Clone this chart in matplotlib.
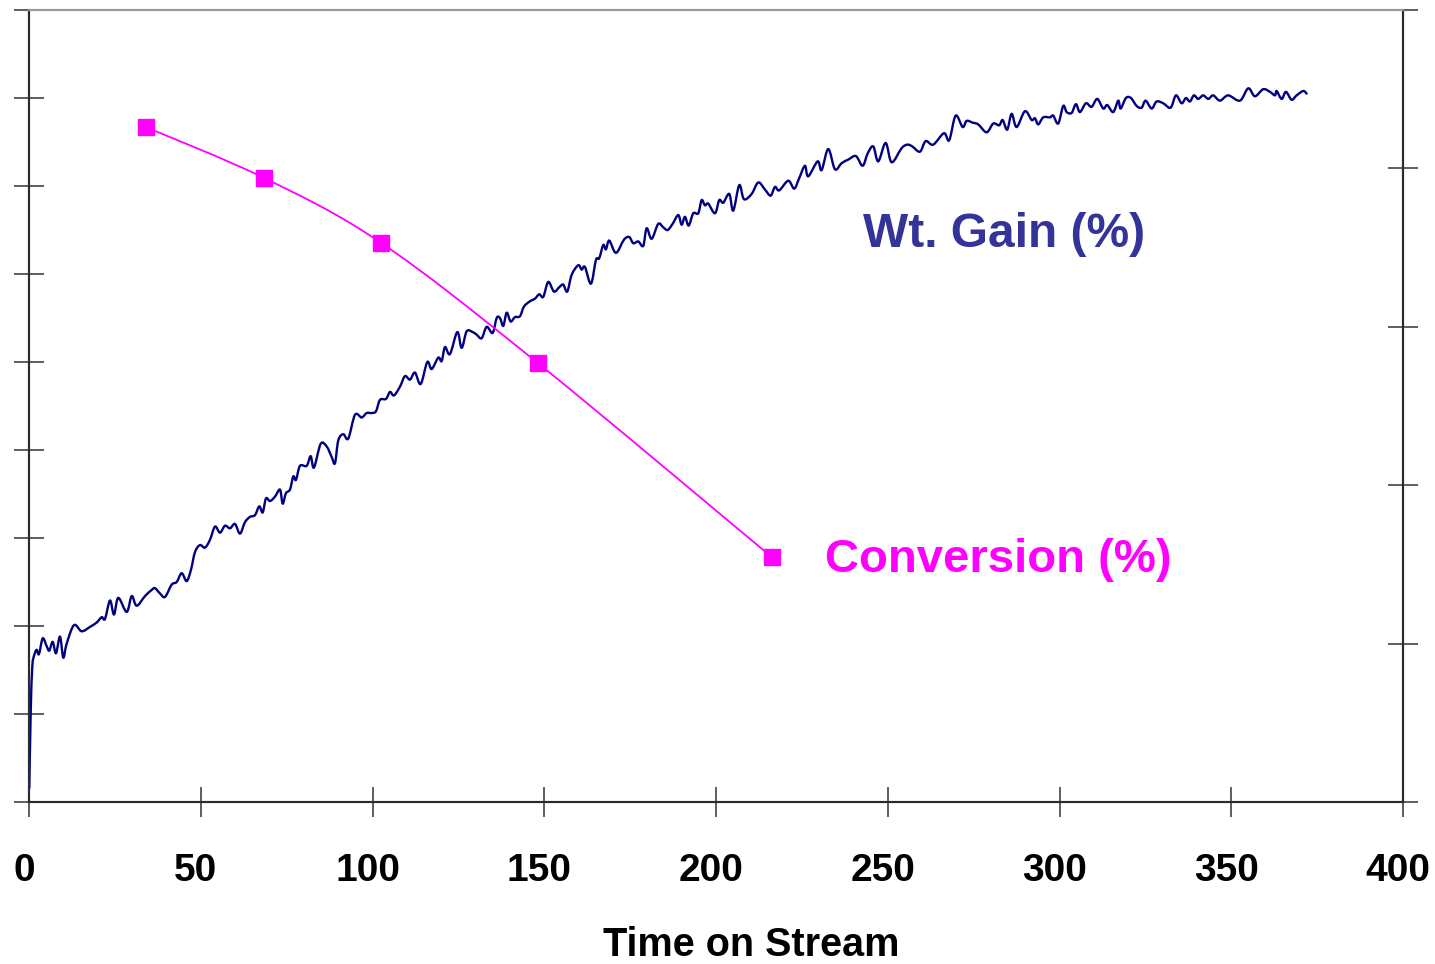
import matplotlib
matplotlib.use("Agg")
import matplotlib.pyplot as plt
from matplotlib.path import Path
from matplotlib.patches import PathPatch
from matplotlib.transforms import ScaledTranslation

plt.rcParams["font.family"] = ["Liberation Sans", "DejaVu Sans"]

# Weight gain (%) recorded against time on stream
time_wt = [
    0.09, 0.49, 0.96, 1.54, 2.24, 2.91, 3.99, 5.15, 5.91, 6.90, 7.86, 9.02, 9.98, 10.97,
    13.10, 15.34, 17.76, 19.71, 21.16, 22.12, 23.58, 24.74, 26.00, 28.44, 29.90, 31.35,
    33.77, 35.72, 36.68, 38.14, 39.59, 41.54, 43.00, 44.45, 45.91, 47.16, 48.32, 49.78,
    51.23, 52.69, 54.15, 55.60, 57.06, 58.51, 59.97, 61.42, 62.88, 64.33, 65.79, 67.04,
    68.03, 68.99, 70.16, 71.61, 73.07, 73.85, 74.81, 75.98, 76.94, 77.72, 78.89, 80.84,
    82.00, 82.96, 84.91, 86.66, 88.12, 89.08, 90.04, 91.49, 92.95, 94.90, 96.85, 98.31,
    99.76, 101.01, 102.18, 103.92, 105.09, 106.25, 108.00, 109.45, 110.91, 112.36, 114.02,
    115.95, 117.23, 119.15, 120.14, 121.10, 122.55, 124.68, 125.96, 127.42, 129.16, 130.33,
    131.78, 133.24, 134.98, 136.15, 137.11, 138.07, 139.06, 140.22, 141.47, 142.93, 144.09,
    145.84, 147.30, 148.55, 149.71, 151.17, 152.83, 154.37, 155.53, 156.70, 157.98, 159.90,
    160.89, 161.85, 163.60, 165.05, 166.01, 167.18, 167.96, 168.93, 170.88, 173.21, 174.75,
    175.91, 177.37, 178.82, 179.81, 181.27, 183.19, 184.65, 185.93, 187.38, 189.01, 190.00,
    190.96, 192.04, 193.38, 194.83, 195.82, 196.78, 197.74, 199.70, 200.95, 202.11, 203.86,
    205.02, 206.77, 208.14, 210.38, 212.30, 214.25, 215.91, 217.16, 218.41, 221.03, 222.78,
    224.23, 225.89, 226.85, 229.59, 230.75, 232.68, 234.63, 236.58, 238.50, 240.74, 242.69,
    244.15, 245.78, 247.23, 249.39, 251.13, 254.04, 255.68, 257.13, 259.37, 261.03, 263.24,
    266.36, 267.90, 269.76, 271.80, 272.97, 274.71, 276.34, 278.79, 280.71, 282.45, 283.45,
    284.78, 286.07, 287.52, 289.94, 291.89, 292.85, 293.81, 295.27, 297.22, 298.18, 299.63,
    301.09, 302.08, 303.53, 304.78, 305.95, 307.69, 309.35, 310.98, 312.74, 313.90, 315.64,
    317.10, 317.80, 319.34, 320.80, 322.45, 323.91, 325.07, 326.82, 328.27, 330.20, 332.35,
    333.90, 335.55, 336.81, 337.97, 339.13, 340.38, 341.84, 343.30, 344.75, 346.70, 349.12,
    352.53, 354.94, 356.89, 359.31, 361.26, 362.72, 363.21, 364.67, 365.92, 367.57, 369.03,
    370.95, 371.95,
]
wt_gain = [
    0.16, 1.01, 1.54, 1.67, 1.73, 1.68, 1.86, 1.77, 1.72, 1.82, 1.69, 1.88, 1.64, 1.80,
    2.01, 1.94, 1.99, 2.04, 2.10, 2.08, 2.29, 2.13, 2.32, 2.16, 2.34, 2.23,
    2.34, 2.41, 2.43, 2.37, 2.33, 2.47, 2.50, 2.60, 2.51, 2.64, 2.84, 2.92,
    2.89, 2.98, 3.13, 3.06, 3.14, 3.11, 3.16, 3.05, 3.18, 3.24, 3.26, 3.36,
    3.29, 3.45, 3.42, 3.47, 3.55, 3.39, 3.51, 3.55, 3.70, 3.66, 3.82, 3.82,
    3.93, 3.80, 4.07, 4.04, 3.92, 3.85, 4.11, 4.18, 4.13, 4.40, 4.37, 4.42,
    4.42, 4.44, 4.57, 4.58, 4.66, 4.62, 4.72, 4.84, 4.80, 4.88, 4.75,
    5.00, 4.92, 5.05, 5.01, 5.17, 5.09, 5.34, 5.16, 5.35, 5.34, 5.31,
    5.27, 5.40, 5.33, 5.50, 5.50, 5.41, 5.56, 5.46, 5.51, 5.52, 5.63,
    5.69, 5.72, 5.77, 5.74, 5.91, 5.80, 5.85, 5.88, 5.80, 5.99, 6.10,
    6.05, 6.08, 5.89, 6.16, 6.18, 6.33, 6.28, 6.38, 6.24, 6.39, 6.42,
    6.35, 6.37, 6.32, 6.52, 6.40, 6.57, 6.53, 6.50, 6.57, 6.67, 6.56,
    6.65, 6.55, 6.69, 6.69, 6.84, 6.78, 6.80, 6.69, 6.84, 6.81, 6.91,
    6.72, 7.01, 6.85, 6.91, 7.04, 6.96, 6.89, 6.99, 6.95, 7.06, 6.97,
    7.09, 7.23, 7.11, 7.28, 7.18, 7.42, 7.19, 7.26, 7.30, 7.34, 7.23,
    7.37, 7.45, 7.28, 7.49, 7.27, 7.43, 7.47, 7.45, 7.39, 7.51, 7.47,
    7.60, 7.52, 7.80, 7.67, 7.74, 7.72, 7.70, 7.61, 7.71, 7.69, 7.75,
    7.64, 7.82, 7.67, 7.85, 7.75, 7.77, 7.70, 7.78, 7.78, 7.80, 7.71,
    7.91, 7.84, 7.83, 7.93, 7.84, 7.94, 7.90, 7.99, 7.88, 7.92, 7.84,
    7.97, 7.88, 8.00, 8.00, 7.91, 7.89, 7.97, 7.88, 7.96, 7.94, 7.89,
    8.03, 7.94, 8.00, 7.96, 8.03, 7.99, 8.03, 7.99, 8.03, 7.97, 8.03,
    7.97, 8.11, 8.02, 8.10, 8.07, 8.03, 8.08, 7.99, 8.07, 7.98, 8.03,
    8.08, 8.05,
]

# Conversion (%) sampled at discrete times
time_conv = [34.1, 68.4, 102.5, 148.2, 216.3]
conversion = [85.2, 78.8, 70.6, 55.4, 30.9]

x_ticks = [0, 50, 100, 150, 200, 250, 300, 350, 400]
left_ticks = [0, 1, 2, 3, 4, 5, 6, 7, 8, 9]
right_ticks = [0, 20, 40, 60, 80, 100]

NAVY = "#000080"
MAGENTA = "#FF00FF"
TEXT_BLUE = "#333399"


def smooth_path(xs, ys):
    """Cubic Bezier path passing through every (x, y) pair (Catmull-Rom)."""
    n = len(xs)
    verts = [(xs[0], ys[0])]
    codes = [Path.MOVETO]
    for i in range(n - 1):
        a = max(i - 1, 0)
        d = min(i + 2, n - 1)
        c1 = (xs[i] + (xs[i + 1] - xs[a]) / 6.0, ys[i] + (ys[i + 1] - ys[a]) / 6.0)
        c2 = (xs[i + 1] - (xs[d] - xs[i]) / 6.0, ys[i + 1] - (ys[d] - ys[i]) / 6.0)
        verts += [c1, c2, (xs[i + 1], ys[i + 1])]
        codes += [Path.CURVE4] * 3
    return Path(verts, codes)


fig = plt.figure(figsize=(14.35, 9.64), dpi=100)
ax = fig.add_axes([29 / 1435, 1 - 802 / 964, (1403 - 29) / 1435, (802 - 10) / 964])
ax2 = ax.twinx()

ax.set_xlim(0, 400)
ax.set_ylim(0, 9)
ax2.set_ylim(0, 100)

# Weight gain trace
ax.add_patch(PathPatch(smooth_path(time_wt, wt_gain), fill=False, edgecolor=NAVY,
                       linewidth=1.7, joinstyle="round", capstyle="round", zorder=3))

# Conversion curve with square markers
ax2.add_patch(PathPatch(smooth_path(time_conv, conversion), fill=False, edgecolor=MAGENTA,
                        linewidth=1.3, zorder=3))
ax2.plot(time_conv, conversion, linestyle="none", marker="s", markersize=11.5,
         color=MAGENTA, zorder=4)

ax.text(283.8, 6.45, "Wt. Gain (%)", color=TEXT_BLUE, fontsize=34.5, fontweight="bold",
        ha="center", va="center")
ax2.text(282.1, 30.5, "Conversion (%)", color=MAGENTA, fontsize=34, fontweight="bold",
         ha="center", va="center")

# Axes styling: tick labels are drawn as text slightly left of each tick
ax.set_xticks(x_ticks)
ax.set_xticklabels([])
label_trans = ax.get_xaxis_transform() + ScaledTranslation(-5 / 100, -51 / 100,
                                                           fig.dpi_scale_trans)
for v in x_ticks:
    ax.text(v, 0, str(v), transform=label_trans, fontsize=28, fontweight="bold",
            ha="center", va="top", clip_on=False)
ax.set_yticks(left_ticks)
ax.set_yticklabels([])
ax2.set_yticks(right_ticks)
ax2.set_yticklabels([])

ax.tick_params(axis="x", direction="inout", length=21, width=1.1, color="#333333")
ax.tick_params(axis="y", direction="inout", length=22, width=1.1, color="#333333")
ax2.tick_params(axis="y", direction="inout", length=22, width=1.1, color="#333333")

for a in (ax, ax2):
    for side in ("left", "right", "bottom"):
        a.spines[side].set_linewidth(1.5)
        a.spines[side].set_color("#2b2b2b")
    a.spines["top"].set_linewidth(1.5)
    a.spines["top"].set_color("#9a9a9a")

ax.set_xlabel("Time on Stream", fontsize=28.5, fontweight="bold")
ax.xaxis.set_label_coords((751 - 29) / 1374, -0.157)

fig.savefig("out.png", dpi=100)
